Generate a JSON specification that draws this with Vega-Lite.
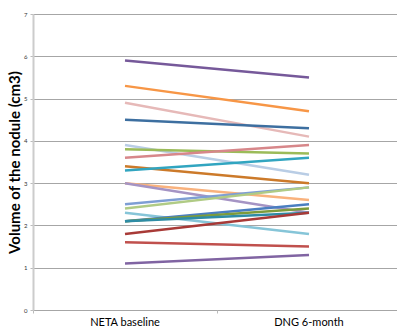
{
  "$schema": "https://vega.github.io/schema/vega-lite/v6.json",
  "width": 368,
  "height": 296,
  "autosize": "none",
  "padding": {"left": 33, "top": 14, "right": -4, "bottom": 21},
  "background": "white",
  "config": {"view": {"stroke": null}, "font": "Lato"},
  "data": {"values": [
    {"id": "s01", "time": "NETA baseline", "value": 5.9}, {"id": "s01", "time": "DNG 6-month", "value": 5.5},
    {"id": "s02", "time": "NETA baseline", "value": 5.3}, {"id": "s02", "time": "DNG 6-month", "value": 4.7},
    {"id": "s03", "time": "NETA baseline", "value": 4.9}, {"id": "s03", "time": "DNG 6-month", "value": 4.1},
    {"id": "s04", "time": "NETA baseline", "value": 4.5}, {"id": "s04", "time": "DNG 6-month", "value": 4.3},
    {"id": "s05", "time": "NETA baseline", "value": 3.9}, {"id": "s05", "time": "DNG 6-month", "value": 3.2},
    {"id": "s06", "time": "NETA baseline", "value": 3.8}, {"id": "s06", "time": "DNG 6-month", "value": 3.7},
    {"id": "s07", "time": "NETA baseline", "value": 3.6}, {"id": "s07", "time": "DNG 6-month", "value": 3.9},
    {"id": "s08", "time": "NETA baseline", "value": 3.4}, {"id": "s08", "time": "DNG 6-month", "value": 3.0},
    {"id": "s09", "time": "NETA baseline", "value": 3.3}, {"id": "s09", "time": "DNG 6-month", "value": 3.6},
    {"id": "s10", "time": "NETA baseline", "value": 3.0}, {"id": "s10", "time": "DNG 6-month", "value": 2.6},
    {"id": "s11", "time": "NETA baseline", "value": 3.0}, {"id": "s11", "time": "DNG 6-month", "value": 2.3},
    {"id": "s12", "time": "NETA baseline", "value": 2.5}, {"id": "s12", "time": "DNG 6-month", "value": 2.9},
    {"id": "s13", "time": "NETA baseline", "value": 2.4}, {"id": "s13", "time": "DNG 6-month", "value": 2.9},
    {"id": "s14", "time": "NETA baseline", "value": 2.3}, {"id": "s14", "time": "DNG 6-month", "value": 1.8},
    {"id": "s15", "time": "NETA baseline", "value": 2.1}, {"id": "s15", "time": "DNG 6-month", "value": 2.5},
    {"id": "s16", "time": "NETA baseline", "value": 2.1}, {"id": "s16", "time": "DNG 6-month", "value": 2.4},
    {"id": "s17", "time": "NETA baseline", "value": 2.1}, {"id": "s17", "time": "DNG 6-month", "value": 2.3},
    {"id": "s18", "time": "NETA baseline", "value": 1.8}, {"id": "s18", "time": "DNG 6-month", "value": 2.3},
    {"id": "s19", "time": "NETA baseline", "value": 1.6}, {"id": "s19", "time": "DNG 6-month", "value": 1.5},
    {"id": "s20", "time": "NETA baseline", "value": 1.1}, {"id": "s20", "time": "DNG 6-month", "value": 1.3}
  ]},
  "mark": {"type": "line", "strokeWidth": 2.5},
  "encoding": {
    "x": {
      "field": "time", "type": "nominal", "sort": ["NETA baseline", "DNG 6-month"],
      "scale": {"type": "band", "paddingInner": 0, "paddingOuter": 0},
      "axis": {"title": null, "labelAngle": 0, "labelFontSize": 11, "labelColor": "#000", "labelPadding": 3,
               "domain": false, "ticks": true, "tickColor": "#bbb", "tickSize": 3, "bandPosition": 0, "grid": false}
    },
    "y": {
      "field": "value", "type": "quantitative",
      "scale": {"domain": [0, 7], "nice": false},
      "axis": {"title": "Volume of the nodule (cm3)", "titleFontSize": 15, "titleFontWeight": "bold", "titleColor": "#000",
               "titlePadding": 1, "values": [0, 1, 2, 3, 4, 5, 6, 7], "labelFontSize": 6, "labelColor": "#333",
               "labelPadding": 3, "tickSize": 3, "tickColor": "#bbb", "domainColor": "#ccc", "domainWidth": 2,
               "grid": true, "gridColor": "#a6a6a6", "gridWidth": 1.2}
    },
    "color": {
      "field": "id", "type": "nominal", "legend": null,
      "scale": {
        "domain": ["s01","s02","s03","s04","s05","s06","s07","s08","s09","s10","s11","s12","s13","s14","s15","s16","s17","s18","s19","s20"],
        "range": ["#76599A","#F79646","#E6B9B8","#3D6FA0","#B9CDE5","#9BBB59","#D7878A","#CC7A2A","#31A5C0","#F9B27D","#A594C4","#7E9ED4","#B0CB85","#86C5D8","#4A7EC0","#7D9B3A","#2E8CA5","#A83A37","#C0504D","#8064A2"]
      }
    },
    "detail": {"field": "id"}
  }
}
